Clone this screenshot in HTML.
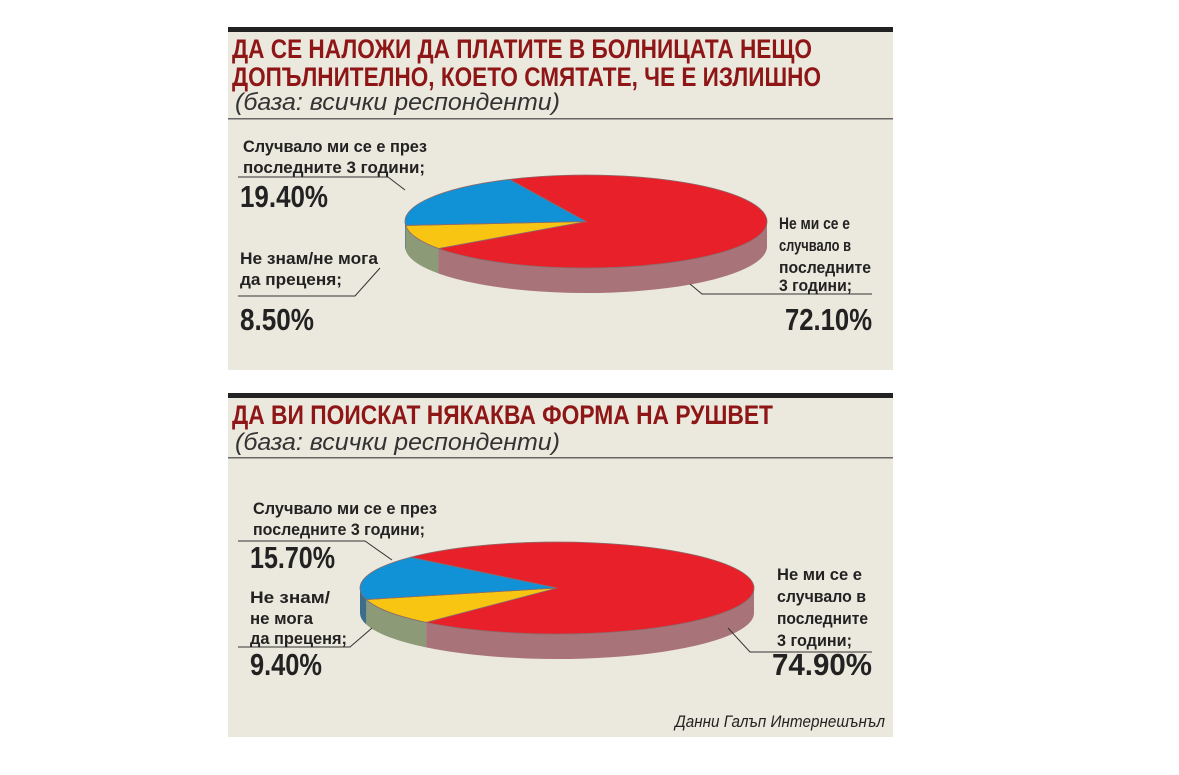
<!DOCTYPE html>
<html><head><meta charset="utf-8"><style>
html,body{margin:0;padding:0;background:#fff;}
svg{display:block;}
.t{font-family:"Liberation Sans Narrow","Liberation Sans",sans-serif;font-weight:bold;}
.ttl{fill:#8e1616;font-size:27px;}
.sub{fill:#333;font-size:24px;font-style:italic;font-weight:normal;font-family:"Liberation Sans Narrow","Liberation Sans",sans-serif;}
.lb{fill:#222;font-size:17px;}
.pc{fill:#222;font-size:31px;}
</style></head><body>
<svg id="s" width="1179" height="775" viewBox="0 0 1179 775" xmlns="http://www.w3.org/2000/svg">
<rect x="228" y="27" width="665" height="343" fill="#ebe8dd"/>
<rect x="228" y="27" width="665" height="5" fill="#222"/>
<text class="t ttl" x="232" y="58" textLength="580" lengthAdjust="spacingAndGlyphs">ДА СЕ НАЛОЖИ ДА ПЛАТИТЕ В БОЛНИЦАТА НЕЩО</text>
<text class="t ttl" x="232" y="86" textLength="589" lengthAdjust="spacingAndGlyphs">ДОПЪЛНИТЕЛНО, КОЕТО СМЯТАТЕ, ЧЕ Е ИЗЛИШНО</text>
<text class="sub" x="235" y="110" textLength="325" lengthAdjust="spacingAndGlyphs">(база: всички респонденти)</text>
<rect x="228" y="118" width="665" height="1.5" fill="#666"/>

<rect x="228" y="393" width="665" height="344" fill="#ebe8dd"/>
<rect x="228" y="393" width="665" height="5" fill="#222"/>
<text class="t ttl" x="232" y="424" textLength="541" lengthAdjust="spacingAndGlyphs">ДА ВИ ПОИСКАТ НЯКАКВА ФОРМА НА РУШВЕТ</text>
<text class="sub" x="235" y="450" textLength="325" lengthAdjust="spacingAndGlyphs">(база: всички респонденти)</text>
<rect x="228" y="457" width="665" height="1.5" fill="#666"/>

<g id="pie1"></g>
<g id="pie2"></g>

<g fill="none" stroke="#333" stroke-width="1">
<polyline points="238,177 388,177 405,190"/>
<polyline points="238,296 355,296 380,268"/>
<polyline points="690,284 702,294 872,294"/>
<polyline points="238,541 365,541 392,560"/>
<polyline points="238,647 350,647 372,628"/>
<polyline points="728,628 750,652 872,652"/>
</g>

<text class="t lb" x="243" y="152" textLength="184" lengthAdjust="spacingAndGlyphs">Случвало ми се е през</text>
<text class="t lb" x="243" y="173" textLength="182" lengthAdjust="spacingAndGlyphs">последните 3 години;</text>
<text class="t pc" x="240" y="207" textLength="88" lengthAdjust="spacingAndGlyphs">19.40%</text>
<text class="t lb" x="240" y="264" textLength="138" lengthAdjust="spacingAndGlyphs">Не знам/не мога</text>
<text class="t lb" x="240" y="285" textLength="102" lengthAdjust="spacingAndGlyphs">да преценя;</text>
<text class="t pc" x="240" y="330" textLength="74" lengthAdjust="spacingAndGlyphs">8.50%</text>
<text class="t lb" x="779" y="229" textLength="71" lengthAdjust="spacingAndGlyphs">Не ми се е</text>
<text class="t lb" x="779" y="251" textLength="72" lengthAdjust="spacingAndGlyphs">случвало в</text>
<text class="t lb" x="779" y="273" textLength="92" lengthAdjust="spacingAndGlyphs">последните</text>
<text class="t lb" x="779" y="291" textLength="73" lengthAdjust="spacingAndGlyphs">3 години;</text>
<text class="t pc" x="785" y="330" textLength="87" lengthAdjust="spacingAndGlyphs">72.10%</text>

<text class="t lb" x="253" y="514" textLength="184" lengthAdjust="spacingAndGlyphs">Случвало ми се е през</text>
<text class="t lb" x="253" y="535" textLength="172" lengthAdjust="spacingAndGlyphs">последните 3 години;</text>
<text class="t pc" x="250" y="568" textLength="85" lengthAdjust="spacingAndGlyphs">15.70%</text>
<text class="t lb" x="250" y="603" textLength="80" lengthAdjust="spacingAndGlyphs">Не знам/</text>
<text class="t lb" x="250" y="624" textLength="63" lengthAdjust="spacingAndGlyphs">не мога</text>
<text class="t lb" x="250" y="644" textLength="97" lengthAdjust="spacingAndGlyphs">да преценя;</text>
<text class="t pc" x="250" y="675" textLength="72" lengthAdjust="spacingAndGlyphs">9.40%</text>
<text class="t lb" x="777" y="580" textLength="85" lengthAdjust="spacingAndGlyphs">Не ми се е</text>
<text class="t lb" x="777" y="602" textLength="89" lengthAdjust="spacingAndGlyphs">случвало в</text>
<text class="t lb" x="777" y="624" textLength="91" lengthAdjust="spacingAndGlyphs">последните</text>
<text class="t lb" x="777" y="646" textLength="75" lengthAdjust="spacingAndGlyphs">3 години;</text>
<text class="t pc" x="772" y="675" textLength="100" lengthAdjust="spacingAndGlyphs">74.90%</text>

<text x="675" y="727" textLength="210" lengthAdjust="spacingAndGlyphs" style="font-family:'Liberation Sans Narrow','Liberation Sans',sans-serif;font-style:italic;font-size:17px;fill:#222">Данни Галъп Интернешънъл</text>
</svg>
<script>
const categories = ["Не ми се е случвало", "Не знам/не мога да преценя", "Случвало ми се е"];
const pie1Values = [72.1, 8.5, 19.4];
const pie2Values = [74.9, 9.4, 15.7];
const topColors = ["#e8202a", "#f8c513", "#1292d6"];
const sideColors = ["#a9737a", "#8c9a78", "#3e6d8a"];
const NS = "http://www.w3.org/2000/svg";
function drawPie(gid, values, cx, cy, rx, ry, depth, startDeg, prefix) {
  const g = document.getElementById(gid);
  const total = values.reduce((a, b) => a + b, 0);
  const pt = (t, dy) => [cx + rx * Math.cos(t), cy + ry * Math.sin(t) + (dy || 0)];
  let a = startDeg * Math.PI / 180;
  const slices = values.map((v, i) => { const s = a; a += v / total * 2 * Math.PI; return [s, a, i]; });
  // sides
  slices.forEach(([s, e, i]) => {
    const full = 2 * Math.PI;
    for (let k = -1; k <= 2; k++) {
      const lo = Math.max(s, k * full), hi = Math.min(e, k * full + Math.PI);
      if (hi <= lo) continue;
      const p1 = pt(lo), p2 = pt(hi), p3 = pt(hi, depth), p4 = pt(lo, depth);
      const d = `M${p1} A${rx},${ry} 0 0 1 ${p2} L${p3} A${rx},${ry} 0 0 0 ${p4} Z`;
      const path = document.createElementNS(NS, "path");
      path.setAttribute("d", d);
      path.setAttribute("fill", sideColors[i]);
      
      
      g.appendChild(path);
    }
  });
  slices.forEach(([s, e, i]) => {
    const p1 = pt(s), p2 = pt(e);
    const large = (e - s) > Math.PI ? 1 : 0;
    const path = document.createElementNS(NS, "path");
    path.setAttribute("d", `M${cx},${cy} L${p1} A${rx},${ry} 0 ${large} 1 ${p2} Z`);
    path.setAttribute("fill", topColors[i]);
    path.setAttribute("stroke", "#8a6a6a");
    path.setAttribute("stroke-width", "0.8");
    
    
    g.appendChild(path);
  });
}
drawPie("pie1", pie1Values, 586, 221.5, 181, 46.5, 25, 245, "pie1");
drawPie("pie2", pie2Values, 557, 588, 197, 46, 25, 222, "pie2");
</script>
</body></html>
